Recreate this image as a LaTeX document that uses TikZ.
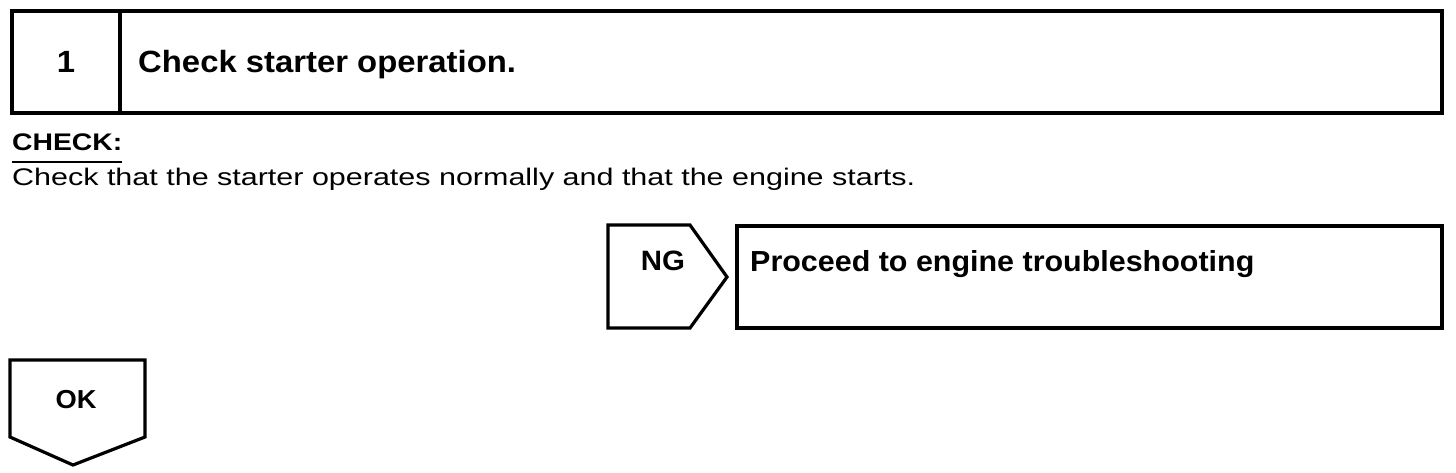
\documentclass[tikz,border=0pt]{standalone}
\usepackage{fontspec}
\setmainfont{Liberation Sans}
\newfontfamily\bodyfont[FakeStretch=1.27]{Liberation Sans}
\newfontfamily\chkfont[FakeStretch=1.18]{Liberation Sans}
\newfontfamily\headfont[FakeStretch=1.07]{Liberation Sans}
\newfontfamily\procfont[FakeStretch=1.05]{Liberation Sans}
\begin{document}
\begin{tikzpicture}[x=1pt,y=-1pt,
  frame/.style={draw=black,line width=3.2pt,line join=miter},
  boldtxt/.style={inner sep=0pt,font=\procfont\bfseries\fontsize{29}{34}\selectfont},
  headtxt/.style={inner sep=0pt,font=\headfont\bfseries\fontsize{30.7}{36}\selectfont},
  bodytxt/.style={inner sep=0pt,font=\bodyfont\fontsize{24}{29}\selectfont}]
\useasboundingbox (0,0) rectangle (1456,472);
% title box
\draw[frame] (12,11) rectangle (1442,113);
\draw[frame] (120,11) -- (120,113);
\node[headtxt,anchor=base] (num) at (66,72) {1};
\node[headtxt,anchor=base west] (title) at (138,72) {Check starter operation.};
% check text
\node[inner sep=0pt,font=\chkfont\bfseries\fontsize{24}{29}\selectfont,anchor=base west] (chk) at (12,150) {CHECK:};
\draw[line width=2pt] (12,162) -- (122,162);
\node[bodytxt,anchor=base west] (body) at (12,185) {Check that the starter operates normally and that the engine starts.};
% NG arrow
\draw[frame] (608,225) -- (690,225) -- (727,277) -- (690,328) -- (608,328) -- cycle;
\node[boldtxt,font=\procfont\bfseries\fontsize{28}{34}\selectfont,anchor=base] (ng) at (663,270) {NG};
% proceed box
\draw[frame] (737,226) rectangle (1442,328);
\node[boldtxt,anchor=base west] (proc) at (750,271) {Proceed to engine troubleshooting};
% OK arrow
\draw[frame] (10,360) -- (145,360) -- (145,437) -- (73,465) -- (10,437) -- cycle;
\node[boldtxt,font=\procfont\bfseries\fontsize{26}{31}\selectfont,anchor=base] (ok) at (76,408) {OK};
\end{tikzpicture}
\end{document}
